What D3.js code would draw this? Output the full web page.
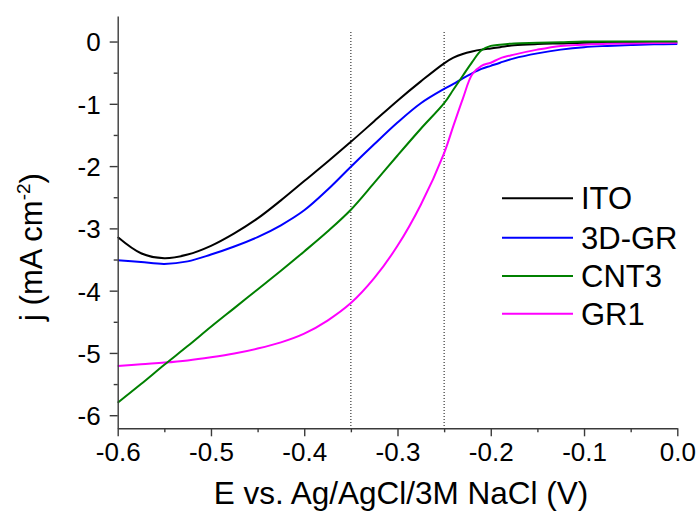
<!DOCTYPE html>
<html>
<head>
<meta charset="utf-8">
<script src="https://cdn.jsdelivr.net/npm/d3@7"></script>
<style>
  html, body { margin: 0; padding: 0; background: #fff; }
  svg { display: block; font-family: "Liberation Sans", Arial, sans-serif; }
</style>
</head>
<body>
<svg id="chart" width="697" height="512"></svg>
<script>
// ---- data ----
const potential = [-0.6, -0.575, -0.55, -0.525, -0.5, -0.475, -0.45, -0.425, -0.4, -0.375, -0.35, -0.325, -0.3, -0.275, -0.25, -0.24, -0.23, -0.22, -0.21, -0.2, -0.19, -0.175, -0.15, -0.125, -0.1, -0.075, -0.05, -0.025, 0];
const seriesNames = ["ITO", "3D-GR", "CNT3", "GR1"];
const ITO   = [-3.14, -3.40, -3.48, -3.42, -3.28, -3.08, -2.84, -2.55, -2.24, -1.93, -1.61, -1.28, -0.95, -0.64, -0.35, -0.26, -0.20, -0.16, -0.13, -0.11, -0.09, -0.06, -0.04, -0.03, -0.02, -0.02, -0.01, -0.01, -0.01];
const GR3D  = [-3.51, -3.54, -3.57, -3.53, -3.42, -3.29, -3.14, -2.95, -2.71, -2.38, -2.01, -1.65, -1.30, -0.99, -0.76, -0.68, -0.59, -0.51, -0.44, -0.39, -0.34, -0.27, -0.19, -0.13, -0.09, -0.07, -0.055, -0.045, -0.04];
const CNT3  = [-5.80, -5.50, -5.19, -4.89, -4.58, -4.28, -3.98, -3.68, -3.37, -3.05, -2.70, -2.27, -1.83, -1.40, -0.99, -0.77, -0.55, -0.33, -0.14, -0.07, -0.05, -0.03, -0.02, -0.01, 0.0, 0.0, 0.0, 0.0, 0.0];
const GR1   = [-5.21, -5.18, -5.155, -5.12, -5.07, -5.01, -4.93, -4.83, -4.69, -4.48, -4.20, -3.80, -3.28, -2.62, -1.79, -1.35, -0.92, -0.53, -0.39, -0.34, -0.27, -0.21, -0.13, -0.07, -0.05, -0.035, -0.03, -0.025, -0.02];
const seriesColors = ["#000000", "#0000ff", "#008000", "#ff00ff"];
const xTicks = [-0.6, -0.5, -0.4, -0.3, -0.2, -0.1, 0];
const xMinorTicks = [-0.55, -0.45, -0.35, -0.25, -0.15, -0.05];
const yTicks = [0, -1, -2, -3, -4, -5, -6];
const yMinorTicks = [-0.5, -1.5, -2.5, -3.5, -4.5, -5.5];
const markerLines = [-0.35, -0.25];
const xTitle = "E vs. Ag/AgCl/3M NaCl (V)";

// ---- layout ----
const svg = d3.select("#chart");
const mLeft = 117.7, mRight = 677.3, mTop = 16, mBottom = 428.3;
const x = d3.scaleLinear().domain([-0.6, 0]).range([mLeft, mRight]);
const y = d3.scaleLinear().domain([-6.21, 0.41]).range([mBottom, mTop]);
const axisColor = "#3a3a3a";
const fontFam = "Liberation Sans, Arial, sans-serif";

// dotted marker lines
svg.append("g").selectAll("line").data(markerLines).join("line")
  .attr("x1", d => x(d)).attr("x2", d => x(d))
  .attr("y1", 32).attr("y2", mBottom)
  .attr("stroke", "#222").attr("stroke-width", 1.1)
  .attr("stroke-dasharray", "1,2");

// curves
const data = [ITO, GR3D, CNT3, GR1];
const order = [0, 1, 3, 2];
const line = d3.line().x(d => x(d[0])).y(d => y(d[1])).curve(d3.curveCatmullRom.alpha(0.5));
svg.append("g").selectAll("path").data(order).join("path")
  .attr("d", i => line(potential.map((p, k) => [p, data[i][k]])))
  .attr("fill", "none")
  .attr("stroke", i => seriesColors[i])
  .attr("stroke-width", 2);

// x axis
const xAxis = svg.append("g").attr("transform", `translate(0,${mBottom})`)
  .call(d3.axisBottom(x).tickValues(xTicks).tickSize(8).tickSizeOuter(0)
    .tickFormat(d => (d === 0 ? 0 : d).toFixed(1)));
svg.append("g").attr("transform", `translate(0,${mBottom})`)
  .call(d3.axisBottom(x).tickValues(xMinorTicks).tickSize(4).tickFormat(""))
  .call(g => g.select(".domain").remove());
// y axis
const yAxis = svg.append("g").attr("transform", `translate(${mLeft},0)`)
  .call(d3.axisLeft(y).tickValues(yTicks).tickSize(8).tickSizeOuter(0)
    .tickFormat(d => String(d)));
svg.append("g").attr("transform", `translate(${mLeft},0)`)
  .call(d3.axisLeft(y).tickValues(yMinorTicks).tickSize(4).tickFormat(""))
  .call(g => g.select(".domain").remove());

svg.selectAll(".domain, .tick line").attr("stroke", axisColor).attr("stroke-width", 1.4);
xAxis.selectAll(".tick text").attr("y", 33).attr("dy", 0)
  .attr("font-size", 26).attr("fill", "#000").attr("font-family", fontFam);
yAxis.selectAll(".tick text").attr("x", -17).attr("dy", "0.36em")
  .attr("font-size", 26).attr("fill", "#000").attr("font-family", fontFam);

// axis titles
svg.append("text").attr("x", 401).attr("y", 504).attr("text-anchor", "middle")
  .attr("font-size", 31.5).attr("fill", "#000").text(xTitle);
const yt = svg.append("text").attr("transform", "translate(42,247) rotate(-90)")
  .attr("text-anchor", "middle").attr("font-size", 31).attr("fill", "#000");
yt.append("tspan").text("j (mA cm");
yt.append("tspan").attr("font-size", 19).attr("dy", -12).text("-2");
yt.append("tspan").attr("dy", 12).text(")");

// legend
const legendRows = [198.3, 237.7, 276, 313.7];
const lg = svg.append("g").selectAll("g").data(seriesNames).join("g")
  .attr("transform", (d, i) => `translate(0,${legendRows[i]})`);
lg.append("line").attr("x1", 502).attr("x2", 573).attr("y1", 0).attr("y2", 0)
  .attr("stroke", (d, i) => seriesColors[i]).attr("stroke-width", 2);
lg.append("text").attr("x", 581).attr("y", 0).attr("dy", "0.36em")
  .attr("font-size", 31).attr("fill", "#000").text(d => d);
</script>
</body>
</html>
